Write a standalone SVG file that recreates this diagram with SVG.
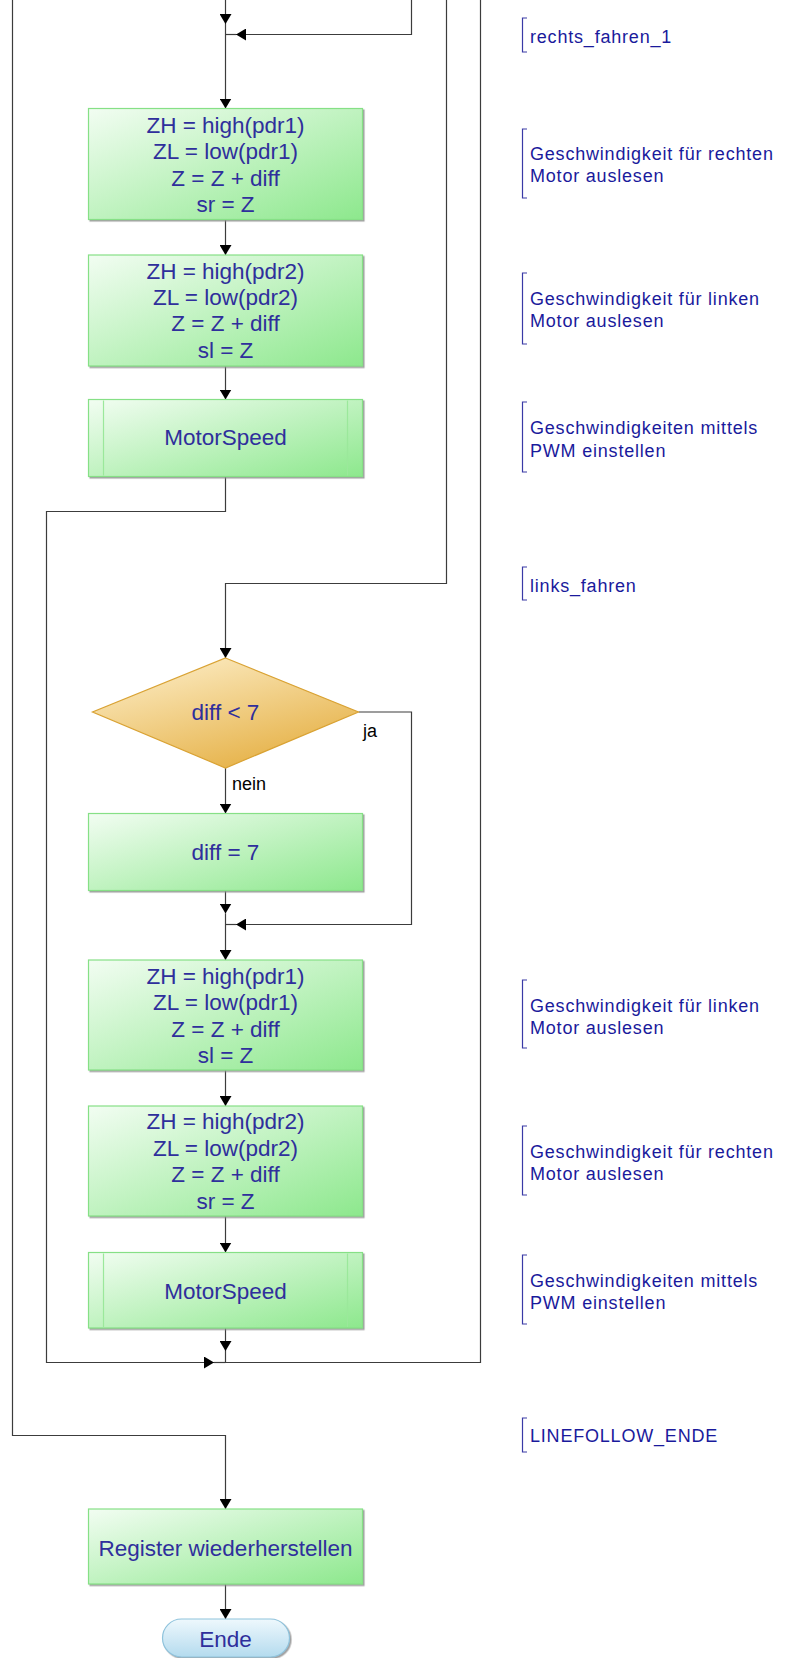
<svg xmlns="http://www.w3.org/2000/svg" width="792" height="1658" viewBox="0 0 792 1658">
  <defs>
    <linearGradient id="gProc" x1="0" y1="0" x2="1" y2="1">
      <stop offset="0" stop-color="#f2fdf2"/>
      <stop offset="1" stop-color="#8de88d"/>
    </linearGradient>
    <linearGradient id="gDec" x1="0.2" y1="0" x2="0.8" y2="1">
      <stop offset="0" stop-color="#fcecc4"/>
      <stop offset="1" stop-color="#e4ad3e"/>
    </linearGradient>
    <linearGradient id="gEnd" x1="0" y1="0" x2="0" y2="1">
      <stop offset="0" stop-color="#eef8fd"/>
      <stop offset="1" stop-color="#b4dbee"/>
    </linearGradient>
    <filter id="shadow" x="-5%" y="-5%" width="115%" height="115%">
      <feDropShadow dx="1.5" dy="1.5" stdDeviation="0.6" flood-color="#8a8a8a" flood-opacity="0.8"/>
    </filter>
    <marker id="arrow" viewBox="0 0 10 12" refX="10" refY="6" markerWidth="10" markerHeight="12" markerUnits="userSpaceOnUse" orient="auto">
      <path d="M0,0 L10,6 L0,12 Z" fill="#000"/>
    </marker>
    <style>
      .wire { fill: none; stroke: #3c3c3c; stroke-width: 1.2; }
      .arr { marker-end: url(#arrow); }
      .proc { fill: url(#gProc); stroke: #86e086; stroke-width: 1.2; filter: url(#shadow); }
      .sub { fill: none; stroke: #9be89b; stroke-width: 1.2; }
      .dec { fill: url(#gDec); stroke: #d9a233; stroke-width: 1.2; }
      .term { fill: url(#gEnd); stroke: #8fc3dc; stroke-width: 1.2; filter: url(#shadow); }
      .t { font-family: "Liberation Sans", Arial, sans-serif; font-size: 22.5px; fill: #2f2f9c; text-anchor: middle; }
      .lbl { font-family: "Liberation Sans", Arial, sans-serif; font-size: 18px; fill: #000; }
      .c { font-family: "Liberation Sans", Arial, sans-serif; font-size: 18px; letter-spacing: 0.8px; fill: #1a1a9c; }
      .br { fill: none; stroke: #3a3aa6; stroke-width: 1.2; }
    </style>
  </defs>
  <rect width="792" height="1658" fill="#fff"/>

  <!-- connectors -->
  <g id="connectors">
    <path class="wire arr" d="M225.5,0 V24"/>
    <path class="wire arr" d="M225.5,24 V108.5"/>
    <path class="wire arr" d="M411.5,0 V34.5 H236"/>
    <path class="wire" d="M236,34.5 H225.5"/>
    <path class="wire arr" d="M225.5,219.5 V255"/>
    <path class="wire arr" d="M225.5,366 V399.5"/>
    <path class="wire arr" d="M225.5,476.5 V511.5 H46.5 V1362.5 H214"/>
    <path class="wire" d="M214,1362.5 H225.5"/>
    <path class="wire arr" d="M446.5,0 V583.5 H225.5 V658"/>
    <path class="wire arr" d="M358.5,712 H411.5 V924.5 H236"/>
    <path class="wire" d="M236,924.5 H225.5"/>
    <path class="wire arr" d="M225.5,768 V813.5"/>
    <path class="wire arr" d="M225.5,890.5 V913.5"/>
    <path class="wire arr" d="M225.5,913.5 V960"/>
    <path class="wire arr" d="M225.5,1070 V1106"/>
    <path class="wire arr" d="M225.5,1216 V1252.5"/>
    <path class="wire arr" d="M225.5,1328 V1351"/>
    <path class="wire" d="M225.5,1351 V1362.5 H480.5 V0"/>
    <path class="wire arr" d="M12.5,0 V1435.5 H225.5 V1509"/>
    <path class="wire arr" d="M225.5,1584 V1619"/>
  </g>

  <!-- right turn, first half -->
  <g id="read_right_1">
    <rect class="proc" x="88.5" y="108.5" width="274" height="111"/>
    <text class="t" x="225.5" y="132.5">ZH = high(pdr1)</text>
    <text class="t" x="225.5" y="159">ZL = low(pdr1)</text>
    <text class="t" x="225.5" y="185.5">Z = Z + diff</text>
    <text class="t" x="225.5" y="212">sr = Z</text>
  </g>
  <g id="read_left_1">
    <rect class="proc" x="88.5" y="255" width="274" height="111"/>
    <text class="t" x="225.5" y="278.5">ZH = high(pdr2)</text>
    <text class="t" x="225.5" y="305">ZL = low(pdr2)</text>
    <text class="t" x="225.5" y="331">Z = Z + diff</text>
    <text class="t" x="225.5" y="358">sl = Z</text>
  </g>
  <g id="motorspeed_1">
    <rect class="proc" x="88.5" y="399.5" width="274" height="77"/>
    <line class="sub" x1="103.5" y1="400.5" x2="103.5" y2="475.5"/>
    <line class="sub" x1="347.5" y1="400.5" x2="347.5" y2="475.5"/>
    <text class="t" x="225.5" y="445">MotorSpeed</text>
  </g>

  <!-- left turn -->
  <g id="check_diff">
    <polygon class="dec" points="225.5,658 358.5,712 225.5,768 92.5,712"/>
    <text class="t" x="225.5" y="720">diff &lt; 7</text>
    <text class="lbl" x="363" y="737">ja</text>
    <text class="lbl" x="232" y="790">nein</text>
  </g>
  <g id="set_diff">
    <rect class="proc" x="88.5" y="813.5" width="274" height="77"/>
    <text class="t" x="225.5" y="860">diff = 7</text>
  </g>
  <g id="read_left_2">
    <rect class="proc" x="88.5" y="960" width="274" height="110"/>
    <text class="t" x="225.5" y="983.5">ZH = high(pdr1)</text>
    <text class="t" x="225.5" y="1010">ZL = low(pdr1)</text>
    <text class="t" x="225.5" y="1036.5">Z = Z + diff</text>
    <text class="t" x="225.5" y="1063">sl = Z</text>
  </g>
  <g id="read_right_2">
    <rect class="proc" x="88.5" y="1106" width="274" height="110"/>
    <text class="t" x="225.5" y="1129">ZH = high(pdr2)</text>
    <text class="t" x="225.5" y="1156">ZL = low(pdr2)</text>
    <text class="t" x="225.5" y="1182">Z = Z + diff</text>
    <text class="t" x="225.5" y="1208.5">sr = Z</text>
  </g>
  <g id="motorspeed_2">
    <rect class="proc" x="88.5" y="1252.5" width="274" height="75.5"/>
    <line class="sub" x1="103.5" y1="1253.5" x2="103.5" y2="1327"/>
    <line class="sub" x1="347.5" y1="1253.5" x2="347.5" y2="1327"/>
    <text class="t" x="225.5" y="1298.5">MotorSpeed</text>
  </g>

  <!-- exit -->
  <g id="restore">
    <rect class="proc" x="88.5" y="1509" width="274" height="75"/>
    <text class="t" x="225.5" y="1556">Register wiederherstellen</text>
  </g>
  <g id="end">
    <rect class="term" x="162.5" y="1619" width="127" height="38" rx="19"/>
    <text class="t" x="225.5" y="1647">Ende</text>
  </g>

  <!-- side comments -->
  <g id="c_rechts_fahren_1">
    <path class="br" d="M527,18 H522.5 V52 H527"/>
    <text class="c" x="530" y="43">rechts_fahren_1</text>
  </g>
  <g id="c_read_right_1">
    <path class="br" d="M527,129 H522.5 V198 H527"/>
    <text class="c" x="530" y="160">Geschwindigkeit für rechten</text>
    <text class="c" x="530" y="182">Motor auslesen</text>
  </g>
  <g id="c_read_left_1">
    <path class="br" d="M527,273 H522.5 V344 H527"/>
    <text class="c" x="530" y="305">Geschwindigkeit für linken</text>
    <text class="c" x="530" y="327">Motor auslesen</text>
  </g>
  <g id="c_pwm_1">
    <path class="br" d="M527,402 H522.5 V472 H527"/>
    <text class="c" x="530" y="433.5">Geschwindigkeiten mittels</text>
    <text class="c" x="530" y="456.5">PWM einstellen</text>
  </g>
  <g id="c_links_fahren">
    <path class="br" d="M527,567 H522.5 V600 H527"/>
    <text class="c" x="530" y="592">links_fahren</text>
  </g>
  <g id="c_read_left_2">
    <path class="br" d="M527,980 H522.5 V1048 H527"/>
    <text class="c" x="530" y="1011.5">Geschwindigkeit für linken</text>
    <text class="c" x="530" y="1034">Motor auslesen</text>
  </g>
  <g id="c_read_right_2">
    <path class="br" d="M527,1126 H522.5 V1195 H527"/>
    <text class="c" x="530" y="1158">Geschwindigkeit für rechten</text>
    <text class="c" x="530" y="1180">Motor auslesen</text>
  </g>
  <g id="c_pwm_2">
    <path class="br" d="M527,1255 H522.5 V1324 H527"/>
    <text class="c" x="530" y="1286.5">Geschwindigkeiten mittels</text>
    <text class="c" x="530" y="1308.5">PWM einstellen</text>
  </g>
  <g id="c_linefollow_ende">
    <path class="br" d="M527,1418 H522.5 V1452 H527"/>
    <text class="c" x="530" y="1441.5">LINEFOLLOW_ENDE</text>
  </g>
</svg>
